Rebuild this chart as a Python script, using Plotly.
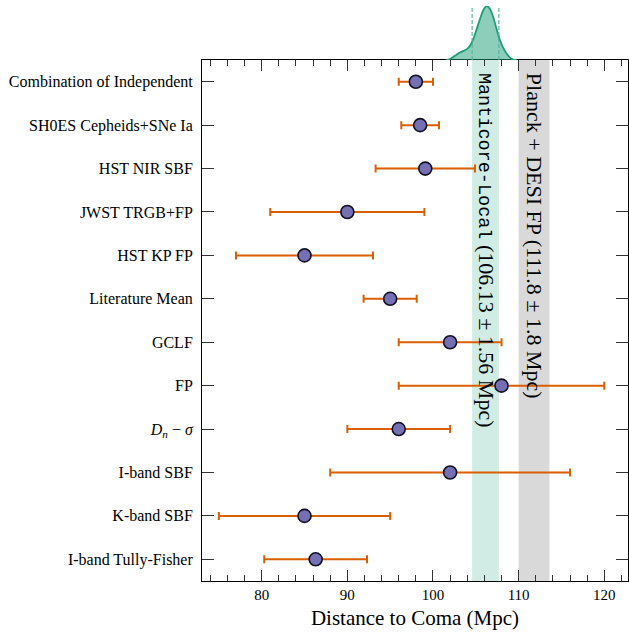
import plotly.graph_objects as go

# Distance estimates to the Coma cluster (Mpc), listed top to bottom
methods = [
    "Combination of Independent",
    "SH0ES Cepheids+SNe Ia",
    "HST NIR SBF",
    "JWST TRGB+FP",
    "HST KP FP",
    "Literature Mean",
    "GCLF",
    "FP",
    "<i>D</i><sub><i>n</i></sub> − <i>σ</i>",
    "I-band SBF",
    "K-band SBF",
    "I-band Tully-Fisher",
]
distances = [98.0, 98.5, 99.1, 90.0, 85.0, 95.0, 102.0, 108.0, 96.0, 102.0, 85.0, 86.3]
errors = [2.0, 2.2, 5.8, 9.0, 8.0, 3.1, 6.0, 12.0, 6.0, 14.0, 10.0, 6.0]

# Reference bands
manticore_mean, manticore_err = 106.13, 1.56
planck_mean, planck_err = 111.8, 1.8

# Manticore-Local posterior density (normalised to peak)
kde_x = [101.5, 101.97, 102.56, 103.14, 103.72, 104.1, 104.5, 104.85, 105.2, 105.55, 105.9,
         106.25, 106.64, 107.02, 107.42, 107.81, 108.19, 108.59, 108.97, 109.36, 109.8]
kde_y = [0.0, 0.02, 0.08, 0.14, 0.18, 0.22, 0.31, 0.45, 0.62, 0.79, 0.93,
         1.0, 0.95, 0.80, 0.58, 0.37, 0.23, 0.12, 0.05, 0.01, 0.0]

SERIF = "Liberation Serif, Times New Roman, serif"
MONO = "Liberation Mono, DejaVu Sans Mono, monospace"
GREEN = "#1b9e77"
X_RANGE = [73.03, 122.77]

fig = go.Figure()

fig.add_trace(go.Scatter(
    x=distances, y=methods, mode="markers",
    error_x=dict(type="data", array=errors, color="#d95f02", thickness=2, width=4),
    marker=dict(size=13, color="#7570b3", line=dict(color="#111122", width=1.6)),
    showlegend=False, xaxis="x", yaxis="y",
))

fig.add_trace(go.Scatter(
    x=kde_x, y=kde_y, mode="lines", fill="tozeroy",
    line=dict(color=GREEN, width=1.8, shape="spline", smoothing=0.8),
    fillcolor="rgba(27,158,119,0.5)",
    showlegend=False, xaxis="x2", yaxis="y2",
))

shapes = [
    dict(type="rect", xref="x", yref="y domain",
         x0=manticore_mean - manticore_err, x1=manticore_mean + manticore_err,
         y0=0, y1=1, fillcolor="rgba(27,158,119,0.2)", line=dict(width=0), layer="below"),
    dict(type="rect", xref="x", yref="y domain",
         x0=planck_mean - planck_err, x1=planck_mean + planck_err,
         y0=0, y1=1, fillcolor="#d9d9d9", line=dict(width=0), layer="below"),
]
for xv in (manticore_mean - manticore_err, manticore_mean + manticore_err):
    shapes.append(dict(type="line", xref="x2", yref="y2 domain", x0=xv, x1=xv, y0=0, y1=0.97,
                       line=dict(color="#4fb592", width=1.1, dash="4px,2px"), layer="above"))

annotations = [
    dict(x=manticore_mean, y=11.25, xref="x", yref="y", textangle=90,
         xanchor="center", yanchor="top", showarrow=False,
         text=f'<span style="font-family:{MONO};font-size:18.5px">Manticore-Local</span> '
              f'({manticore_mean:.2f} ± {manticore_err:.2f} Mpc)',
         font=dict(family=SERIF, size=22, color="black")),
    dict(x=planck_mean, y=11.25, xref="x", yref="y", textangle=90,
         xanchor="center", yanchor="top", showarrow=False,
         text=f"Planck + DESI FP ({planck_mean} ± {planck_err} Mpc)",
         font=dict(family=SERIF, size=22, color="black")),
]

fig.update_layout(
    width=629, height=633,
    margin=dict(l=202, r=1, t=6, b=52),
    paper_bgcolor="white", plot_bgcolor="white",
    font=dict(family=SERIF, color="black"),
    shapes=shapes, annotations=annotations,
    xaxis=dict(
        domain=[0, 1], range=X_RANGE, anchor="y",
        tickvals=[80, 90, 100, 110, 120], ticks="inside", ticklen=11, tickwidth=1,
        tickcolor="#333", showline=True, linecolor="black", linewidth=1, mirror="allticks",
        showgrid=False, zeroline=False, tickfont=dict(size=15),
        minor=dict(dtick=2, tick0=0, ticks="inside", ticklen=6, tickcolor="#333", showgrid=False),
        title=dict(text="Distance to Coma (Mpc)", font=dict(size=21), standoff=8),
    ),
    yaxis=dict(
        domain=[0, 0.906], anchor="x", type="category",
        categoryorder="array", categoryarray=methods[::-1], range=[-0.5, 11.5],
        ticks="inside", ticklen=12, tickwidth=1, tickcolor="#333",
        showline=True, linecolor="black", linewidth=1, mirror="allticks",
        showgrid=False, zeroline=False, tickfont=dict(size=16), ticklabelstandoff=5,
    ),
    xaxis2=dict(domain=[0, 1], range=X_RANGE, anchor="y2", visible=False),
    yaxis2=dict(domain=[0.906, 1.0], range=[0, 1.0], anchor="x2", visible=False),
)

fig.write_html("out.html")
